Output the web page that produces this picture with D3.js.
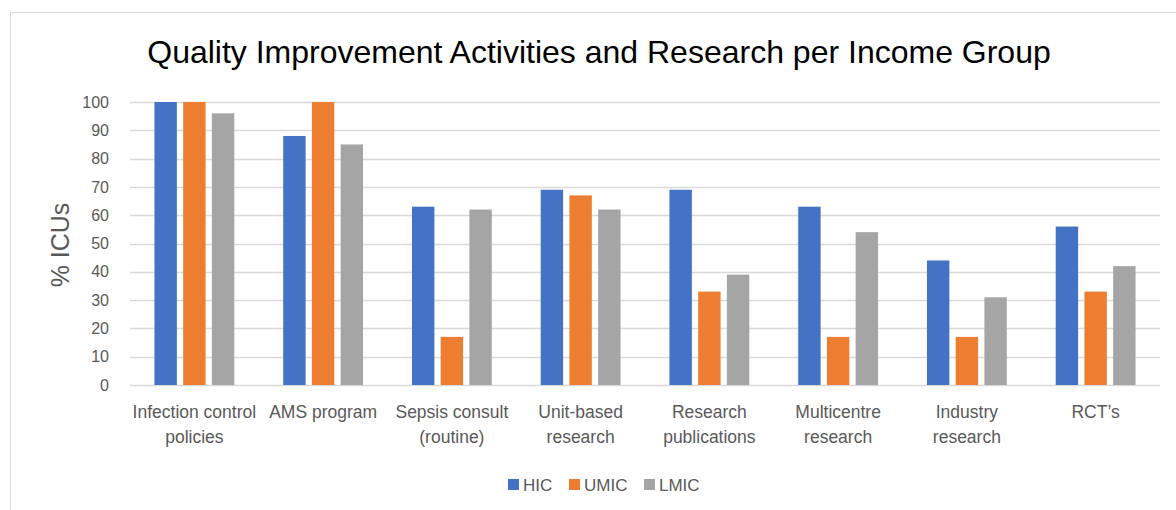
<!DOCTYPE html>
<html>
<head>
<meta charset="utf-8">
<script src="https://cdn.jsdelivr.net/npm/d3@7"></script>
<style>
  body { margin: 0; background: #fff; }
  text { font-family: Arial, "Liberation Sans", sans-serif; }
</style>
</head>
<body>
<div id="chart"></div>
<script>
// categories (x axis), two-line labels
const categories = [
    ["Infection control", "policies"],
    ["AMS program"],
    ["Sepsis consult", "(routine)"],
    ["Unit-based", "research"],
    ["Research", "publications"],
    ["Multicentre", "research"],
    ["Industry", "research"],
    ["RCT\u2019s"]
];
const seriesNames = ["HIC", "UMIC", "LMIC"];
const hic  = [100, 88, 63, 69, 69, 63, 44, 56];
const umic = [100, 100, 17, 67, 33, 17, 17, 33];
const lmic = [96, 85, 62, 62, 39, 54, 31, 42];
const yTicks = [0, 10, 20, 30, 40, 50, 60, 70, 80, 90, 100];

const colors = ['#4472C4', '#ED7D31', '#A5A5A5'];
const seriesValues = [hic, umic, lmic];

const width = 1176, height = 510;
const plot = {left: 130, right: 1160, top: 102, bottom: 385};

let svg = d3.select("#chart").append("svg")
    .attr("width", width)
    .attr("height", height);

// chart frame
svg.append("rect")
    .attr("x", 10.5).attr("y", 12.5)
    .attr("width", 1180).attr("height", 520)
    .attr("fill", "none")
    .attr("stroke", "#D9D9D9")
    .attr("stroke-width", 1);

// title
svg.append("text")
    .attr("x", 599).attr("y", 63)
    .attr("text-anchor", "middle")
    .attr("font-size", "32px")
    .attr("fill", "#000")
    .text("Quality Improvement Activities and Research per Income Group");

// scales
let x0 = d3.scaleBand()
    .domain(d3.range(categories.length))
    .range([plot.left, plot.right])
    .paddingInner(0.38)
    .paddingOuter(0.19);

let x1 = d3.scaleBand()
    .domain(seriesNames)
    .range([0, x0.bandwidth()])
    .paddingInner(0.22);

let y = d3.scaleLinear()
    .domain([0, 100])
    .range([plot.bottom, plot.top]);

// gridlines
svg.append("g")
    .selectAll("line")
    .data(yTicks)
    .join("line")
    .attr("x1", plot.left).attr("x2", plot.right)
    .attr("y1", d => Math.round(y(d)) + 0.5)
    .attr("y2", d => Math.round(y(d)) + 0.5)
    .attr("stroke", "#D9D9D9")
    .attr("stroke-width", 1.5);

// y axis labels
let yAxis = svg.append("g")
    .attr("transform", `translate(${plot.left}, 0)`)
    .call(d3.axisLeft(y).tickValues(yTicks).tickSize(0).tickPadding(21));
yAxis.select(".domain").remove();
yAxis.selectAll("text")
    .attr("font-size", "16px")
    .attr("font-family", "Arial, 'Liberation Sans', sans-serif")
    .attr("fill", "#595959");

// y title
svg.append("text")
    .attr("transform", "translate(69, 245) rotate(-90)")
    .attr("text-anchor", "middle")
    .attr("font-size", "25px")
    .attr("fill", "#595959")
    .text("% ICUs");

// bars
seriesNames.forEach((name, s) => {
    svg.append("g")
        .selectAll("rect")
        .data(seriesValues[s])
        .join("rect")
        .attr("x", (d, i) => x0(i) + x1(name))
        .attr("y", d => y(d))
        .attr("width", x1.bandwidth())
        .attr("height", d => y(0) - y(d))
        .attr("fill", colors[s]);
});

// category labels
let catG = svg.append("g");
categories.forEach((lines, i) => {
    let t = catG.append("text")
        .attr("x", x0(i) + x0.bandwidth() / 2)
        .attr("y", 418)
        .attr("text-anchor", "middle")
        .attr("font-size", "17.5px")
        .attr("fill", "#595959");
    lines.forEach((ln, j) => {
        t.append("tspan")
            .attr("x", x0(i) + x0.bandwidth() / 2)
            .attr("dy", j === 0 ? 0 : 24.5)
            .text(ln);
    });
});

// legend
const legendX = [508, 569, 644];
let legend = svg.append("g");
seriesNames.forEach((name, s) => {
    legend.append("rect")
        .attr("x", legendX[s]).attr("y", 479)
        .attr("width", 11).attr("height", 11)
        .attr("fill", colors[s]);
    legend.append("text")
        .attr("x", legendX[s] + 15).attr("y", 491)
        .attr("font-size", "17px")
        .attr("fill", "#595959")
        .text(name);
});
</script>
</body>
</html>
